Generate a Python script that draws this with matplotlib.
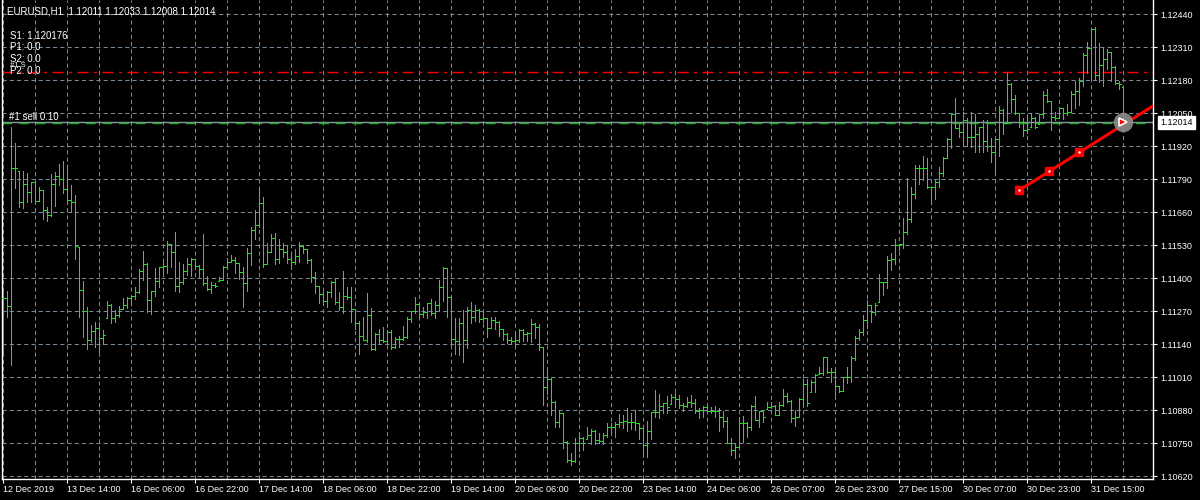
import numpy as np
import matplotlib
matplotlib.use("Agg")
import matplotlib.pyplot as plt
from matplotlib.collections import LineCollection

# chart texts
title_text = "EURUSD,H1  1.12011 1.12033 1.12008 1.12014"
info_texts = ["S1: 1,120176", "P1: 0.0", "S2: 0.0", "#1 S", "P2: 0.0"]
order_text = "#1 sell 0.10"

# H1 bars (high / low / close)
highs = [
    1.11348, 1.11348, 1.11996, 1.11933, 1.11822, 1.11822, 1.11812, 1.11778, 1.11778, 1.11757,
    1.11746, 1.11678, 1.11809, 1.11818, 1.11849, 1.11860, 1.11845, 1.11765, 1.11727, 1.11524,
    1.11388, 1.11287, 1.11214, 1.11226, 1.11226, 1.11195, 1.11309, 1.11297, 1.11274, 1.11289,
    1.11320, 1.11326, 1.11329, 1.11363, 1.11435, 1.11506, 1.11461, 1.11348, 1.11439, 1.11444,
    1.11470, 1.11544, 1.11533, 1.11581, 1.11463, 1.11457, 1.11477, 1.11477, 1.11473, 1.11452,
    1.11572, 1.11408, 1.11383, 1.11379, 1.11405, 1.11447, 1.11477, 1.11492, 1.11482, 1.11460,
    1.11444, 1.11518, 1.11600, 1.11667, 1.11753, 1.11719, 1.11537, 1.11575, 1.11577, 1.11553,
    1.11539, 1.11530, 1.11495, 1.11514, 1.11540, 1.11530, 1.11514, 1.11473, 1.11422, 1.11368,
    1.11346, 1.11349, 1.11389, 1.11399, 1.11346, 1.11428, 1.11366, 1.11363, 1.11278, 1.11231,
    1.11245, 1.11340, 1.11280, 1.11182, 1.11198, 1.11206, 1.11195, 1.11195, 1.11166, 1.11173,
    1.11211, 1.11245, 1.11270, 1.11324, 1.11303, 1.11287, 1.11303, 1.11317, 1.11311, 1.11392,
    1.11442, 1.11438, 1.11330, 1.11241, 1.11244, 1.11274, 1.11284, 1.11305, 1.11292, 1.11277,
    1.11267, 1.11241, 1.11245, 1.11245, 1.11231, 1.11200, 1.11185, 1.11166, 1.11182, 1.11198,
    1.11198, 1.11189, 1.11238, 1.11221, 1.11219, 1.11127, 1.11038, 1.11007, 1.10915, 1.10880,
    1.10869, 1.10758, 1.10712, 1.10768, 1.10785, 1.10775, 1.10812, 1.10804, 1.10801, 1.10788,
    1.10788, 1.10827, 1.10830, 1.10834, 1.10864, 1.10860, 1.10887, 1.10867, 1.10880, 1.10830,
    1.10810, 1.10837, 1.10872, 1.10959, 1.10942, 1.10909, 1.10935, 1.10942, 1.10948, 1.10939,
    1.10906, 1.10932, 1.10939, 1.10922, 1.10887, 1.10896, 1.10896, 1.10893, 1.10896, 1.10887,
    1.10877, 1.10854, 1.10768, 1.10749, 1.10854, 1.10856, 1.10831, 1.10900, 1.10935, 1.10876,
    1.10877, 1.10913, 1.10910, 1.10900, 1.10913, 1.10963, 1.10946, 1.10919, 1.10880, 1.10926,
    1.11001, 1.11001, 1.10998, 1.11020, 1.11048, 1.11087, 1.11087, 1.11045, 1.11040, 1.10974,
    1.11011, 1.11048, 1.11093, 1.11171, 1.11198, 1.11254, 1.11313, 1.11294, 1.11300, 1.11414,
    1.11386, 1.11488, 1.11497, 1.11554, 1.11533, 1.11635, 1.11793, 1.11760, 1.11845, 1.11845,
    1.11882, 1.11874, 1.11760, 1.11786, 1.11839, 1.11878, 1.11950, 1.12049, 1.12108, 1.12005,
    1.12055, 1.12029, 1.12055, 1.12045, 1.11996, 1.12022, 1.12022, 1.11950, 1.11946, 1.12079,
    1.12066, 1.12206, 1.12167, 1.12121, 1.12049, 1.12032, 1.12042, 1.12049, 1.12036, 1.12045,
    1.12137, 1.12145, 1.12097, 1.12053, 1.12071, 1.12068, 1.12084, 1.12137, 1.12176, 1.12189,
    1.12285, 1.12328, 1.12384, 1.12390, 1.12324, 1.12311, 1.12302, 1.12289, 1.12235, 1.12176,
    1.12154,
]
lows = [
    1.11107, 1.11247, 1.11057, 1.11755, 1.11678, 1.11677, 1.11700, 1.11700, 1.11703, 1.11703,
    1.11631, 1.11625, 1.11644, 1.11684, 1.11767, 1.11736, 1.11707, 1.11660, 1.11473, 1.11245,
    1.11168, 1.11119, 1.11149, 1.11129, 1.11109, 1.11140, 1.11243, 1.11224, 1.11228, 1.11247,
    1.11279, 1.11283, 1.11293, 1.11317, 1.11339, 1.11394, 1.11267, 1.11259, 1.11330, 1.11365,
    1.11418, 1.11421, 1.11444, 1.11350, 1.11346, 1.11376, 1.11413, 1.11409, 1.11438, 1.11405,
    1.11373, 1.11352, 1.11339, 1.11363, 1.11388, 1.11392, 1.11442, 1.11464, 1.11418, 1.11398,
    1.11287, 1.11350, 1.11452, 1.11554, 1.11602, 1.11444, 1.11457, 1.11501, 1.11456, 1.11461,
    1.11484, 1.11460, 1.11451, 1.11454, 1.11464, 1.11497, 1.11458, 1.11386, 1.11340, 1.11303,
    1.11311, 1.11287, 1.11326, 1.11298, 1.11274, 1.11263, 1.11316, 1.11228, 1.11198, 1.11099,
    1.11156, 1.11149, 1.11116, 1.11116, 1.11143, 1.11149, 1.11143, 1.11119, 1.11123, 1.11127,
    1.11156, 1.11162, 1.11228, 1.11261, 1.11250, 1.11248, 1.11244, 1.11254, 1.11241, 1.11274,
    1.11311, 1.11248, 1.11132, 1.11099, 1.11097, 1.11070, 1.11123, 1.11221, 1.11232, 1.11228,
    1.11225, 1.11169, 1.11202, 1.11198, 1.11173, 1.11156, 1.11143, 1.11139, 1.11136, 1.11149,
    1.11153, 1.11153, 1.11149, 1.11162, 1.11116, 1.10900, 1.10943, 1.10860, 1.10814, 1.10812,
    1.10729, 1.10676, 1.10662, 1.10676, 1.10720, 1.10722, 1.10764, 1.10746, 1.10745, 1.10749,
    1.10745, 1.10775, 1.10781, 1.10775, 1.10814, 1.10808, 1.10798, 1.10804, 1.10801, 1.10764,
    1.10705, 1.10696, 1.10764, 1.10851, 1.10847, 1.10869, 1.10869, 1.10904, 1.10893, 1.10887,
    1.10876, 1.10893, 1.10893, 1.10867, 1.10850, 1.10854, 1.10869, 1.10867, 1.10854, 1.10798,
    1.10814, 1.10749, 1.10703, 1.10690, 1.10735, 1.10755, 1.10772, 1.10801, 1.10841, 1.10814,
    1.10834, 1.10883, 1.10887, 1.10860, 1.10860, 1.10896, 1.10913, 1.10834, 1.10818, 1.10854,
    1.10893, 1.10896, 1.10951, 1.10952, 1.11022, 1.11018, 1.11027, 1.10992, 1.10939, 1.10952,
    1.10955, 1.10988, 1.10992, 1.11077, 1.11156, 1.11176, 1.11203, 1.11227, 1.11254, 1.11304,
    1.11333, 1.11362, 1.11432, 1.11454, 1.11509, 1.11517, 1.11573, 1.11619, 1.11716, 1.11769,
    1.11786, 1.11756, 1.11701, 1.11711, 1.11760, 1.11803, 1.11874, 1.11913, 1.11990, 1.11957,
    1.11931, 1.11920, 1.11917, 1.11898, 1.11895, 1.11895, 1.11900, 1.11858, 1.11816, 1.11881,
    1.11967, 1.12009, 1.12055, 1.12046, 1.11996, 1.11961, 1.11970, 1.11996, 1.11990, 1.12005,
    1.12029, 1.12095, 1.11983, 1.12022, 1.12029, 1.12026, 1.12042, 1.12055, 1.12071, 1.12082,
    1.12158, 1.12206, 1.12176, 1.12180, 1.12173, 1.12158, 1.12223, 1.12176, 1.12163, 1.12145,
    1.11996,
]
closes = [
    1.11320, 1.11289, 1.11832, 1.11832, 1.11699, 1.11770, 1.11738, 1.11778, 1.11705, 1.11746,
    1.11667, 1.11650, 1.11770, 1.11801, 1.11792, 1.11749, 1.11709, 1.11698, 1.11526, 1.11351,
    1.11271, 1.11154, 1.11191, 1.11205, 1.11162, 1.11175, 1.11293, 1.11241, 1.11253, 1.11279,
    1.11293, 1.11323, 1.11329, 1.11346, 1.11427, 1.11455, 1.11312, 1.11347, 1.11388, 1.11444,
    1.11447, 1.11533, 1.11502, 1.11368, 1.11385, 1.11427, 1.11457, 1.11473, 1.11447, 1.11435,
    1.11379, 1.11356, 1.11372, 1.11369, 1.11392, 1.11444, 1.11464, 1.11470, 1.11460, 1.11422,
    1.11379, 1.11499, 1.11591, 1.11607, 1.11694, 1.11455, 1.11502, 1.11556, 1.11473, 1.11516,
    1.11501, 1.11473, 1.11462, 1.11487, 1.11527, 1.11514, 1.11471, 1.11405, 1.11368, 1.11336,
    1.11311, 1.11346, 1.11383, 1.11307, 1.11287, 1.11330, 1.11326, 1.11278, 1.11221, 1.11171,
    1.11156, 1.11254, 1.11119, 1.11179, 1.11156, 1.11153, 1.11189, 1.11129, 1.11158, 1.11160,
    1.11169, 1.11238, 1.11270, 1.11298, 1.11257, 1.11265, 1.11300, 1.11261, 1.11294, 1.11363,
    1.11439, 1.11326, 1.11160, 1.11152, 1.11221, 1.11156, 1.11274, 1.11248, 1.11274, 1.11237,
    1.11241, 1.11203, 1.11235, 1.11228, 1.11200, 1.11179, 1.11156, 1.11153, 1.11156, 1.11195,
    1.11179, 1.11182, 1.11217, 1.11208, 1.11127, 1.10972, 1.11003, 1.10910, 1.10833, 1.10867,
    1.10753, 1.10683, 1.10680, 1.10751, 1.10768, 1.10749, 1.10781, 1.10798, 1.10762, 1.10759,
    1.10781, 1.10814, 1.10814, 1.10825, 1.10834, 1.10837, 1.10834, 1.10831, 1.10827, 1.10808,
    1.10742, 1.10798, 1.10871, 1.10871, 1.10896, 1.10906, 1.10893, 1.10932, 1.10925, 1.10900,
    1.10896, 1.10913, 1.10906, 1.10876, 1.10880, 1.10892, 1.10876, 1.10877, 1.10876, 1.10854,
    1.10837, 1.10749, 1.10722, 1.10735, 1.10827, 1.10827, 1.10814, 1.10897, 1.10841, 1.10876,
    1.10854, 1.10893, 1.10896, 1.10860, 1.10900, 1.10935, 1.10917, 1.10850, 1.10851, 1.10925,
    1.10981, 1.10906, 1.10992, 1.11018, 1.11024, 1.11087, 1.11028, 1.11028, 1.10974, 1.10955,
    1.11011, 1.11011, 1.11083, 1.11162, 1.11188, 1.11235, 1.11294, 1.11266, 1.11294, 1.11386,
    1.11383, 1.11471, 1.11474, 1.11530, 1.11533, 1.11580, 1.11631, 1.11732, 1.11835, 1.11835,
    1.11835, 1.11760, 1.11760, 1.11779, 1.11812, 1.11874, 1.11948, 1.12045, 1.11992, 1.11976,
    1.12022, 1.11957, 1.11957, 1.11966, 1.11996, 1.11940, 1.11920, 1.11898, 1.11946, 1.12062,
    1.12009, 1.12163, 1.12105, 1.12049, 1.12016, 1.11983, 1.11986, 1.12032, 1.11996, 1.12045,
    1.12121, 1.12097, 1.12036, 1.12032, 1.12068, 1.12049, 1.12055, 1.12124, 1.12137, 1.12176,
    1.12278, 1.12305, 1.12381, 1.12200, 1.12239, 1.12261, 1.12289, 1.12233, 1.12167, 1.12163,
    1.12014,
]

time_labels = ["12 Dec 2019", "13 Dec 14:00", "16 Dec 06:00", "16 Dec 22:00", "17 Dec 14:00",
               "18 Dec 06:00", "18 Dec 22:00", "19 Dec 14:00", "20 Dec 06:00", "20 Dec 22:00",
               "23 Dec 14:00", "24 Dec 06:00", "26 Dec 07:00", "26 Dec 23:00", "27 Dec 15:00",
               "30 Dec 07:00", "30 Dec 23:00", "31 Dec 15:00"]
bars_per_label = 16
price_ticks = [1.12440, 1.12310, 1.12180, 1.12050, 1.11920, 1.11790, 1.11660, 1.11530,
               1.11400, 1.11270, 1.11140, 1.11010, 1.10880, 1.10750, 1.10620]

bid_price = 1.12014
order_price = 1.12010
level_price = 1.12210
trend_bars = [254, 261.5, 269]
trend_prices = [1.11746, 1.11820, 1.11895]
trade_bar = 280

bar_color = "#22dd22"
grid_color = "#778899"

plt.rcParams['font.family'] = ['Liberation Sans', 'DejaVu Sans']
plt.rcParams['lines.scale_dashes'] = False

fig = plt.figure(figsize=(12, 5), dpi=100, facecolor="black")
ax = fig.add_axes([2 / 1200, 21 / 500, 1151 / 1200, 479 / 500])
ax.set_facecolor("black")

n = len(closes)
x = np.arange(n)
opens = np.clip(np.r_[closes[0], closes[:-1]], lows, highs)

# OHLC bars: thin line from low to high, open tick left, close tick right
segs = []
for i in range(n):
    segs.append([(x[i], lows[i]), (x[i], highs[i])])
    segs.append([(x[i] - 0.35, opens[i]), (x[i], opens[i])])
    segs.append([(x[i], closes[i]), (x[i] + 0.35, closes[i])])
ax.add_collection(LineCollection(segs, colors=bar_color, linewidths=0.7,
                                 antialiaseds=False, zorder=3))

ax.set_xlim(-0.33, 287.4)
ax.set_ylim(1.106082, 1.124952)

# grid
ax.set_xticks(np.arange(0, len(time_labels) * bars_per_label, bars_per_label))
ax.set_xticklabels(time_labels, ha="left")
ax.set_xticks(np.arange(8, n + 8, bars_per_label), minor=True)
ax.set_yticks(price_ticks)
ax.set_yticklabels([f"{p:.5f}" for p in price_ticks])
ax.yaxis.tick_right()
ax.grid(True, which="both", axis="x", color=grid_color, linestyle=(0, (3, 2.2)), linewidth=0.75)
ax.grid(True, which="major", axis="y", color=grid_color, linestyle=(0, (3, 2.2)), linewidth=0.75)
ax.set_axisbelow(True)

ax.tick_params(axis="y", which="major", colors="white", length=3, width=0.8, pad=2, labelsize=6.5)
ax.tick_params(axis="x", which="major", colors="white", length=3, width=0.8, pad=1, labelsize=6.5)
ax.tick_params(axis="x", which="minor", colors="white", length=0)
for side in ["left", "right", "bottom"]:
    ax.spines[side].set_color("white")
    ax.spines[side].set_linewidth(1)
ax.spines["top"].set_visible(False)

# level, bid and order lines
ax.axhline(level_price, color="red", linewidth=1, linestyle=(0, (8, 4, 2, 4)), zorder=2)
ax.axhline(bid_price, color="#8a97a5", linewidth=1, zorder=2)
ax.axhline(order_price, color="#22b022", linewidth=1, linestyle=(0, (7, 5)), zorder=2)

# trend line with points
x_end = ax.get_xlim()[1]
slope = (trend_prices[-1] - trend_prices[0]) / (trend_bars[-1] - trend_bars[0])
ax.plot([trend_bars[0], x_end], [trend_prices[0], trend_prices[0] + slope * (x_end - trend_bars[0])],
        color="red", linewidth=2.2, zorder=5, clip_on=True)
ax.plot(trend_bars, trend_prices, "s", color="red", markersize=5.5, zorder=6)
ax.plot(trend_bars, trend_prices, ".", color="white", markersize=1.5, zorder=7)

# trade marker
ax.plot(trade_bar, bid_price, "o", color="#8c8c8c", markersize=14, mec="none", alpha=0.9, zorder=6)
ax.plot(trade_bar, bid_price, ">", mfc="red", mec="white", mew=1.2, markersize=6, zorder=7)

# bid price box on the axis
ax.annotate(f"{bid_price:.5f}", xy=(1.0, bid_price), xycoords=("axes fraction", "data"),
            xytext=(5.2, 0), textcoords="offset points", ha="left", va="center",
            fontsize=6.5, color="black", annotation_clip=False, zorder=10,
            bbox=dict(boxstyle="square,pad=0.22", fc="white", ec="white"))

# texts
fig.text(7 / 1200, 1 - 11 / 500, title_text, color="white", fontsize=7, va="center", ha="left")
info_y = [35, 47, 59, 65.5, 71]
info_size = [7, 7, 7, 5.5, 7]
for txt, yy, fs in zip(info_texts, info_y, info_size):
    fig.text(10 / 1200, 1 - yy / 500, txt, color="white", fontsize=fs, va="center", ha="left")
ax.text(1.4, 1.12034, order_text, color="white", fontsize=7, va="center", ha="left", zorder=8)

fig.savefig("out.png", dpi=100, facecolor="black")
